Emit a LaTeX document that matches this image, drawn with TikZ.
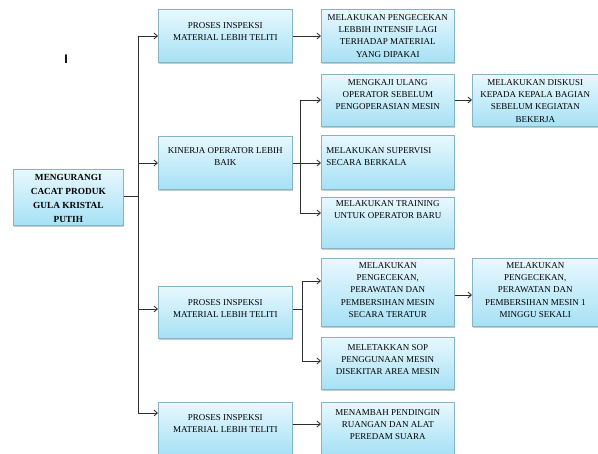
\documentclass[tikz,border=0pt]{standalone}
\usepackage{fontspec}
\setmainfont{Liberation Serif}
\newfontfamily\sansf{Liberation Sans}
\usetikzlibrary{arrows.meta,shadows}
\definecolor{boxtop}{HTML}{E8F8FE}
\definecolor{boxbot}{HTML}{A6E1F5}
\definecolor{boxline}{HTML}{86B3C6}
\definecolor{conn}{HTML}{2E2E2E}
\newcommand\bxt[4]{\parbox[c][#2][t]{#1}{\vspace*{#3}\centering #4\par}}
\begin{document}
\begin{tikzpicture}[x=1pt,y=-1pt,
  box/.style={draw=boxline, line width=0.6pt, top color=boxtop, bottom color=boxbot,
    inner sep=0pt, anchor=north west, font=\fontsize{9}{12.3}\selectfont,
    drop shadow={shadow xshift=1pt, shadow yshift=-1.5pt, opacity=0.35, fill=black!60}},
  rootbox/.style={box, font=\fontsize{9.3}{14}\selectfont\bfseries},
  link/.style={draw=conn, line width=0.8pt},
  arr/.style={link, -{Straight Barb[length=3.5pt,width=6pt]}}]
\useasboundingbox (0,0) rectangle (598,454);

\node (mark) at (66,59) {\sansf\bfseries\fontsize{12.5}{13}\selectfont I};

\node[rootbox] (root) at (13,169) {\bxt{110pt}{56pt}{5pt}{MENGURANGI\\CACAT PRODUK\\GULA KRISTAL\\PUTIH}};

\node[box] (a1) at (158,9) {\bxt{134pt}{53pt}{13pt}{PROSES INSPEKSI\\MATERIAL LEBIH TELITI}};
\node[box] (a2) at (158,136) {\bxt{134pt}{53pt}{11pt}{KINERJA OPERATOR LEBIH\\BAIK}};
\node[box] (a3) at (158,286) {\bxt{134pt}{52pt}{13pt}{PROSES INSPEKSI\\MATERIAL LEBIH TELITI}};
\node[box] (a4) at (158,402) {\bxt{134pt}{52pt}{12pt}{PROSES INSPEKSI\\MATERIAL LEBIH TELITI}};

\node[box] (b1) at (321,9) {\bxt{133pt}{53pt}{5pt}{MELAKUKAN PENGECEKAN\\LEBBIH INTENSIF LAGI\\TERHADAP MATERIAL\\YANG DIPAKAI}};
\node[box] (b2) at (321,74) {\bxt{133pt}{52pt}{5pt}{MENGKAJI ULANG\\OPERATOR SEBELUM\\PENGOPERASIAN MESIN}};
\node[box] (b3) at (321,135) {\bxt{133pt}{54pt}{12pt}{\raggedright\leftskip=5pt MELAKUKAN SUPERVISI\\SECARA BERKALA}};
\node[box] (b4) at (321,197) {\bxt{133pt}{51pt}{3pt}{MELAKUKAN TRAINING\\UNTUK OPERATOR BARU}};
\node[box] (b5) at (321,258) {\bxt{133pt}{68pt}{4pt}{MELAKUKAN\\PENGECEKAN,\\PERAWATAN DAN\\PEMBERSIHAN MESIN\\SECARA TERATUR}};
\node[box] (b6) at (321,337) {\bxt{133pt}{52pt}{7pt}{MELETAKKAN SOP\\PENGGUNAAN MESIN\\DISEKITAR AREA MESIN}};
\node[box] (b7) at (321,402) {\bxt{133pt}{52pt}{7pt}{MENAMBAH PENDINGIN\\RUANGAN DAN ALAT\\PEREDAM SUARA}};

\node[box] (c1) at (472,74) {\bxt{126pt}{52pt}{5pt}{MELAKUKAN DISKUSI\\KEPADA KEPALA BAGIAN\\SEBELUM KEGIATAN\\BEKERJA}};
\node[box] (c2) at (472,258) {\bxt{126pt}{68pt}{4pt}{MELAKUKAN\\PENGECEKAN,\\PERAWATAN DAN\\PEMBERSIHAN MESIN 1\\MINGGU SEKALI}};

% trunk from root
\coordinate (t0) at (138,196);
\coordinate (t1) at (138,36);
\coordinate (t2) at (138,163);
\coordinate (t3) at (138,309);
\coordinate (t4) at (138,413);
\draw[link] (root.east |- t0) -- (t0);
\draw[link] (t1) -- (t4);
\draw[arr] (t1) -- (t1 -| a1.west);
\draw[arr] (t2) -- (t2 -| a2.west);
\draw[arr] (t3) -- (t3 -| a3.west);
\draw[arr] (t4) -- (t4 -| a4.west);

% a1 -> b1
\coordinate (p1) at (292,36);
\draw[arr] (p1 -| a1.east) -- (p1 -| b1.west);

% a2 -> b2,b3,b4
\coordinate (u0) at (300,163);
\coordinate (u2) at (300,100);
\coordinate (u4) at (300,213);
\draw[link] (u0 -| a2.east) -- (u0);
\draw[link] (u2) -- (u4);
\draw[arr] (u2) -- (u2 -| b2.west);
\draw[arr] (u0) -- (u0 -| b3.west);
\draw[arr] (u4) -- (u4 -| b4.west);
\draw[arr] (u2 -| b2.east) -- (u2 -| c1.west);

% a3 -> b5,b6
\coordinate (v0) at (302,309);
\coordinate (v5) at (302,281);
\coordinate (v6) at (302,361);
\draw[link] (v0 -| a3.east) -- (v0);
\draw[link] (v5) -- (v6);
\draw[arr] (v5) -- (v5 -| b5.west);
\draw[arr] (v6) -- (v6 -| b6.west);
\coordinate (w5) at (454,295);
\draw[arr] (w5 -| b5.east) -- (w5 -| c2.west);

% a4 -> b7
\coordinate (z7) at (300,424);
\draw[arr] (z7 -| a4.east) -- (z7 -| b7.west);
\end{tikzpicture}
\end{document}
